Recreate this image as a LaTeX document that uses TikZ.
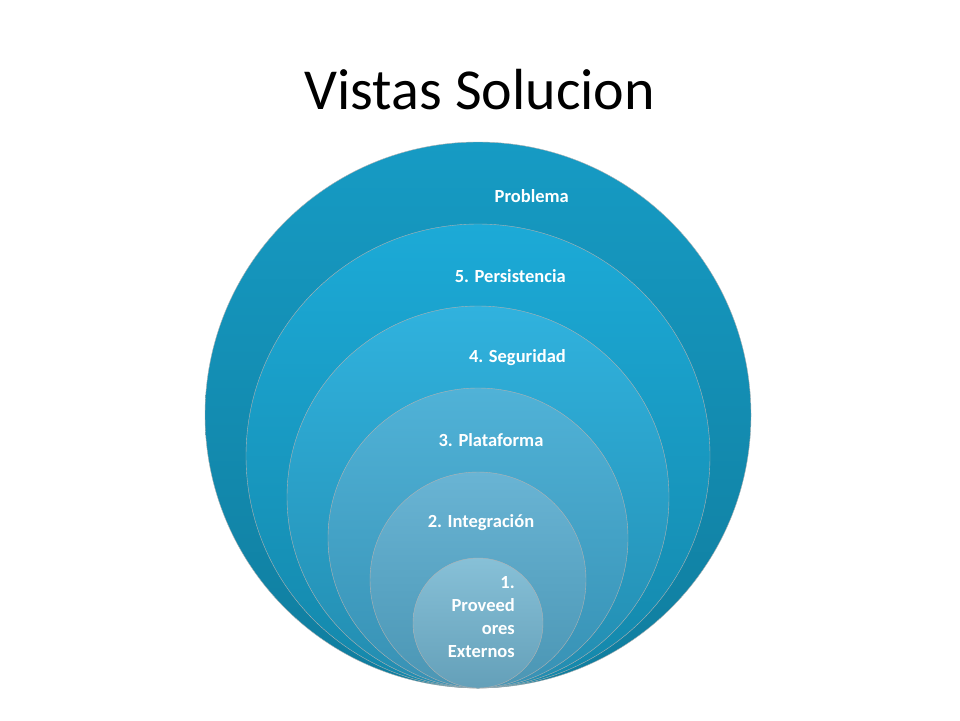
\documentclass[tikz,border=0pt]{standalone}
\usepackage{fontspec}
\setmainfont{Carlito}
\begin{document}
\begin{tikzpicture}[x=1pt,y=-1pt,
  ring/.style={draw=white!70!black, line width=0.4pt},
  lab/.style={text=white,font=\bfseries\fontsize{18.5}{22}\selectfont,inner sep=0pt}]
\useasboundingbox (0,0) rectangle (960,720);
\node (title) at (480,90) {\fontsize{58}{64}\selectfont Vistas Solucion};
\shade[ring,top color={rgb,255:red,22;green,155;blue,196},bottom color={rgb,255:red,16;green,125;blue,158}] (478,415) circle[radius=273];
\shade[ring,top color={rgb,255:red,28;green,170;blue,215},bottom color={rgb,255:red,20;green,135;blue,170}] (478,456) circle[radius=232];
\shade[ring,top color={rgb,255:red,48;green,178;blue,222},bottom color={rgb,255:red,35;green,140;blue,175}] (478,497) circle[radius=191];
\shade[ring,top color={rgb,255:red,80;green,178;blue,215},bottom color={rgb,255:red,55;green,145;blue,180}] (478,538) circle[radius=150];
\shade[ring,top color={rgb,255:red,105;green,180;blue,212},bottom color={rgb,255:red,75;green,150;blue,180}] (478,580) circle[radius=108];
\shade[ring,top color={rgb,255:red,135;green,192;blue,215},bottom color={rgb,255:red,100;green,160;blue,185}] (478,623) circle[radius=65];
\node[lab,anchor=east] (p0) at (569,196) {Problema};
\node[lab,anchor=east] (p5) at (566,276) {5. Persistencia};
\node[lab,anchor=east] (p4) at (566,358) {4. Seguridad};
\node[lab] (p3) at (491,440) {3. Plataforma};
\node[lab] (p2) at (481,523) {2. Integración};
\node[lab,anchor=north east,align=right,font=\bfseries\fontsize{18.5}{23}\selectfont] (p1) at (515,576) {1.\\Proveed\\ores\\Externos};
\end{tikzpicture}
\end{document}
